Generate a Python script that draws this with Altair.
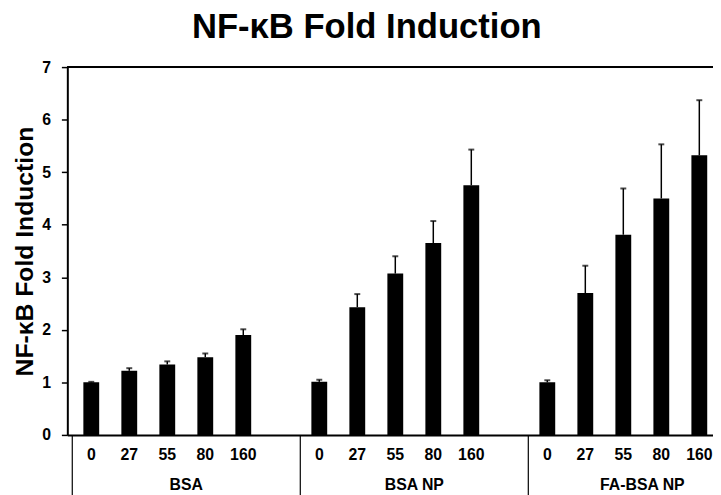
import altair as alt
import pandas as pd

groups = ["BSA", "BSA NP", "FA-BSA NP"]
doses = ["0", "27", "55", "80", "160"]
means = [
    [1.00, 1.22, 1.34, 1.48, 1.90],
    [1.01, 2.43, 3.07, 3.65, 4.75],
    [1.00, 2.70, 3.81, 4.50, 5.32],
]
errors = [
    [0.01, 0.05, 0.06, 0.07, 0.11],
    [0.04, 0.25, 0.33, 0.42, 0.68],
    [0.04, 0.52, 0.88, 1.03, 1.05],
]

slots_per_group = len(doses) + 1
rows = []
for gi, g in enumerate(groups):
    for di, d in enumerate(doses):
        m = means[gi][di]
        e = errors[gi][di]
        rows.append({"group": g, "dose": d, "slot": gi * slots_per_group + di,
                     "mean": m, "upper": m + e})
df = pd.DataFrame(rows)

grp = pd.DataFrame({
    "group": groups,
    "center": [gi * slots_per_group + (len(doses) - 1) / 2 + 0.5 for gi in range(len(groups))],
    "sep": [gi * slots_per_group - 0.5 for gi in range(len(groups))],
})

FONT = "Liberation Sans"
W, H = 653, 372

xscale = alt.Scale(domain=[-0.5, 16.23], nice=False, zero=False)
yscale = alt.Scale(domain=[0, 7], nice=False)

x_enc = alt.X("slot:Q", scale=xscale,
              axis=alt.Axis(labels=False, ticks=False, grid=False, title=None,
                            domainColor="black", domainWidth=2))
y_enc = alt.Y("mean:Q", scale=yscale,
              axis=alt.Axis(values=[0, 1, 2, 3, 4, 5, 6, 7], grid=False, format="d",
                            title="NF-κB Fold Induction",
                            titleFont=FONT, titleFontSize=25, titleFontWeight="bold",
                            titleColor="black", titleX=-43, titleY=H / 2,
                            titleBaseline="middle", titleAngle=-90,
                            labelFont=FONT, labelFontSize=16, labelFontWeight="bold",
                            labelColor="black", labelPadding=11,
                            tickSize=6, tickColor="black", tickWidth=1.5,
                            domainColor="black", domainWidth=2))

bars = alt.Chart(df).mark_bar(color="black", width=16).encode(x=x_enc, y=y_enc)

err = alt.Chart(df).mark_rule(color="black", strokeWidth=1.5).encode(
    x="slot:Q", y="mean:Q", y2="upper:Q")
caps = alt.Chart(df).mark_tick(color="black", orient="horizontal", size=6, thickness=2).encode(
    x="slot:Q", y="upper:Q")

top = alt.Chart(grp).mark_rule(color="black", strokeWidth=2).encode(y=alt.datum(7))

seps = alt.Chart(grp).mark_rule(color="black", strokeWidth=1.2, clip=False).encode(
    x="sep:Q", y=alt.value(H), y2=alt.value(H + 70))

dose_text = alt.Chart(df).mark_text(font=FONT, fontSize=16, fontWeight="bold",
                                    color="black", baseline="middle").encode(
    x="slot:Q", y=alt.value(H + 20), text="dose:N")

grp_text = alt.Chart(grp).mark_text(font=FONT, fontSize=16, fontWeight="bold",
                                    color="black", baseline="alphabetic").encode(
    x="center:Q", y=alt.value(H + 56), text="group:N")

chart = alt.layer(bars, err, caps, top, seps, dose_text, grp_text).properties(
    width=W, height=H,
    title=alt.TitleParams("NF-κB Fold Induction", font=FONT, fontSize=35,
                          fontWeight="bold", color="black", anchor="start",
                          frame="group", dx=126, offset=14),
    autosize=alt.AutoSizeParams(type="none"),
    padding={"left": 60, "top": 57, "right": 0, "bottom": 58},
).configure_view(stroke=None).configure(background="white")

chart.save("out.html", embed_options={"renderer": "svg", "actions": False})
